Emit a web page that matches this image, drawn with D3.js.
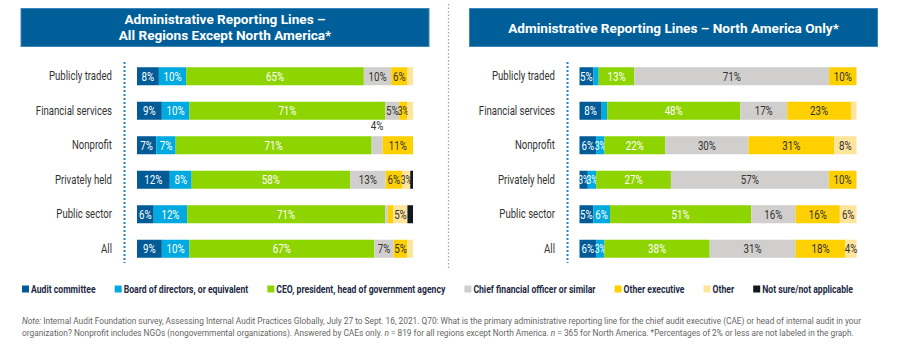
<!DOCTYPE html>
<html>
<head>
<meta charset="utf-8">
<title>Administrative Reporting Lines</title>
<script src="https://d3js.org/d3.v7.min.js"></script>
<style>
    body { margin: 0; background: #fff; }
    svg text { font-family: Roboto, "Liberation Sans", sans-serif; }
    .title { font-weight: 700; }
</style>
</head>
<body>
<div id="chart"></div>
<script>
    // categories (rows) and series (stack order)
    var categories = ["Publicly traded", "Financial services", "Nonprofit", "Privately held", "Public sector", "All"];
    var seriesNames = ["Audit committee", "Board of directors, or equivalent", "CEO, president, head of government agency",
        "Chief financial officer or similar", "Other executive", "Other", "Not sure/not applicable"];
    var seriesColors = ["#005b96", "#00a9e0", "#8ed400", "#d1cfcd", "#ffd000", "#ffe49b", "#111820"];
    var labelColors = ["#fff", "#fff", "#fff", "#333", "#333", "#333", "#fff"];

    // All regions except North America
    var auditLeft   = [8, 9, 7, 12, 6, 9];
    var boardLeft   = [10, 10, 7, 8, 12, 10];
    var ceoLeft     = [65, 71, 71, 58, 71, 67];
    var cfoLeft     = [10, 5, 4, 13, 1, 7];
    var execLeft    = [6, 3, 11, 6, 2, 5];
    var otherLeft   = [2, 2, 0, 3, 5, 2];
    var notSureLeft = [0, 0, 0, 1, 2, 0];

    // North America only
    var auditRight   = [5, 8, 6, 3, 5, 6];
    var boardRight   = [2, 2, 3, 3, 6, 3];
    var ceoRight     = [13, 48, 22, 27, 51, 38];
    var cfoRight     = [71, 17, 30, 57, 16, 31];
    var execRight    = [10, 23, 31, 10, 16, 18];
    var otherRight   = [0, 2, 8, 0, 6, 4];
    var notSureRight = [0, 0, 0, 0, 0, 0];

    var W = 904, H = 346;
    var SX = 0.8;   // no condensed font installed -> squeeze text horizontally

    var svg = d3.select("#chart").append("svg")
        .attr("width", W).attr("height", H);

    // condensed text helper
    function cText(g, x, y, str, size, anchor, sx) {
        return g.append("text")
            .attr("transform", "translate(" + x + "," + y + ") scale(" + (sx || SX) + ",1)")
            .attr("text-anchor", anchor || "start")
            .style("font-size", size + "px")
            .text(str);
    }

    // y position shared by both panels
    var y = d3.scaleBand().domain(categories).range([59, 266]).paddingInner(0.478).paddingOuter(0.239);

    // dotted separator between panels
    svg.append("line")
        .attr("x1", 448.5).attr("x2", 448.5).attr("y1", 4).attr("y2", 270)
        .attr("stroke", "#9aa3ad").attr("stroke-width", 1.2).attr("stroke-dasharray", "1.5,2");

    drawPanel({
        boxX: 21, boxW: 408, title: ["Administrative Reporting Lines \u2013", "All Regions Except North America*"],
        x0: 137, x1: 413, axisX: 124.5, labelX: 112,
        series: [auditLeft, boardLeft, ceoLeft, cfoLeft, execLeft, otherLeft, notSureLeft],
        above: { "Nonprofit": 3 }   // small segment whose label sits above the bar
    });
    drawPanel({
        boxX: 469.5, boxW: 408, title: ["Administrative Reporting Lines \u2013 North America Only*"],
        x0: 579.5, x1: 856.5, axisX: 567.5, labelX: 555,
        series: [auditRight, boardRight, ceoRight, cfoRight, execRight, otherRight, notSureRight],
        above: {}
    });

    function drawPanel(p) {
        // title box
        svg.append("rect")
            .attr("x", p.boxX).attr("y", 8.5).attr("width", p.boxW).attr("height", 38)
            .attr("fill", "#005f99").attr("stroke", "#3a86bd").attr("stroke-width", 1);
        p.title.forEach(function (t, i) {
            svg.append("text").attr("class", "title")
                .attr("x", p.boxX + p.boxW / 2)
                .attr("y", p.title.length == 1 ? 32.5 : 23.5 + i * 16)
                .attr("text-anchor", "middle").attr("fill", "#fff")
                .style("font-size", "13.6px")
                .text(t);
        });

        // dotted axis line
        svg.append("line")
            .attr("x1", p.axisX).attr("x2", p.axisX).attr("y1", 62).attr("y2", 263)
            .attr("stroke", "#2f7fc1").attr("stroke-width", 2).attr("stroke-dasharray", "2,2");

        var x = d3.scaleLinear().domain([0, 100]).range([p.x0, p.x1]);

        // category labels
        categories.forEach(function (cat) {
            cText(svg, p.labelX, y(cat) + y.bandwidth() / 2 + 4, cat, 12, "end")
                .attr("fill", "#333");
        });

        categories.forEach(function (cat, i) {
            var vals = p.series.map(function (s) { return s[i]; });
            var total = d3.sum(vals);
            var acc = 0;
            vals.forEach(function (v, k) {
                if (v <= 0) return;
                var a = acc / total * 100, b = (acc + v) / total * 100;
                acc += v;
                svg.append("rect")
                    .attr("x", x(a)).attr("y", y(cat))
                    .attr("width", x(b) - x(a)).attr("height", y.bandwidth())
                    .attr("fill", seriesColors[k]);
                if (v <= 2) return;   // 2% or less not labeled
                var isAbove = p.above[cat] === k;
                // very thin segments get a tighter label
                var sx = (x(b) - x(a)) < 10 ? 0.7 : SX;
                cText(svg, (x(a) + x(b)) / 2,
                        isAbove ? y(cat) - 6 : y(cat) + y.bandwidth() / 2 + 4.5,
                        v + "%", 12.2, "middle", sx)
                    .attr("fill", isAbove ? "#333" : labelColors[k]);
            });
        });
    }

    // legend: spread items between x=22 and x=853
    var legend = svg.append("g").attr("transform", "translate(0,289)");
    var legendItems = seriesNames.map(function (name, k) {
        var t = cText(legend, 0, 3.5, name, 10.8).attr("fill", "#1d2a44").style("font-weight", "bold");
        return { t: t, w: t.node().getComputedTextLength() * SX };
    });
    var used = d3.sum(legendItems, function (d) { return d.w + 9; });
    var gap = (853 - 22 - used) / (legendItems.length - 1);
    var lx = 22;
    legendItems.forEach(function (d, k) {
        legend.append("rect").attr("x", lx).attr("y", -3.5).attr("width", 7).attr("height", 7)
            .attr("fill", seriesColors[k]);
        d.t.attr("transform", "translate(" + (lx + 9) + ",3.5) scale(" + SX + ",1)");
        lx += 9 + d.w + gap;
    });

    // note, squeezed so the first line runs from x=22 to x=862
    var note = svg.append("g").attr("fill", "#666").style("font-size", "8.8px");
    var n1 = note.append("text");
    n1.append("tspan").style("font-style", "italic").text("Note:");
    n1.append("tspan").text(" Internal Audit Foundation survey, Assessing Internal Audit Practices Globally, July 27 to Sept. 16, 2021. Q70: What is the primary administrative reporting line for the chief audit executive (CAE) or head of internal audit in your");
    var n2 = note.append("text");
    n2.append("tspan").text("organization? Nonprofit includes NGOs (nongovernmental organizations). Answered by CAEs only. ");
    n2.append("tspan").style("font-style", "italic").text("n");
    n2.append("tspan").text(" = 819 for all regions except North America. ");
    n2.append("tspan").style("font-style", "italic").text("n");
    n2.append("tspan").text(" = 365 for North America. *Percentages of 2% or less are not labeled in the graph.");
    var ns = 840 / n1.node().getComputedTextLength();
    n1.attr("transform", "translate(22,324) scale(" + ns + ",1)");
    n2.attr("transform", "translate(22,336) scale(" + ns + ",1)");
</script>
</body>
</html>
